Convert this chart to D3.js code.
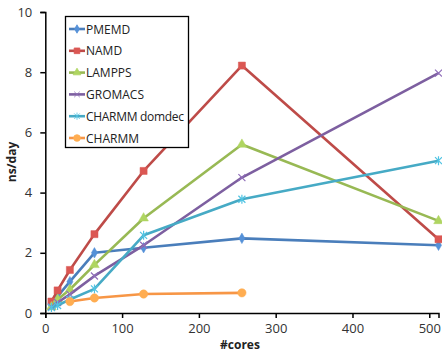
<!DOCTYPE html>
<html>
<head>
<meta charset="utf-8">
<script src="https://cdn.jsdelivr.net/npm/d3@7"></script>
<style>
  body { margin: 0; background: #fff; }
  text { font-family: "Open Sans", "Liberation Sans", sans-serif; }
</style>
</head>
<body>
<svg id="chart" width="442" height="353"></svg>
<script>

var cores = [8, 16, 32, 64, 128, 256, 512];

var pmemd   = [0.25, 0.55, 1.04, 2.0, 2.17, 2.48, 2.25];
var namd    = [0.38, 0.75, 1.43, 2.62, 4.72, 8.22, 2.45];
var lampps  = [0.2, 0.45, 0.78, 1.6, 3.15, 5.6, 3.06];
var gromacs = [0.2, 0.35, 0.62, 1.23, 2.25, 4.5, 7.97];
var domdec  = [0.18, 0.25, 0.45, 0.8, 2.58, 3.78, 5.06];
var charmmCores = [32, 64, 128, 256];
var charmm  = [0.38, 0.5, 0.63, 0.67];

var seriesNames = ["PMEMD", "NAMD", "LAMPPS", "GROMACS", "CHARMM domdec", "CHARMM"];
var colors = ["#4a7ebb", "#be4b48", "#98b954", "#7d5fa0", "#46aac5", "#f79646"];
var yTicks = [0, 2, 4, 6, 8, 10];
var xTicks = [0, 100, 200, 300, 400, 500];

function draw(){
  var svg = d3.select("#chart");
  var x = d3.scaleLinear().domain([0, 512]).range([45.3, 438.5]);
  var y = d3.scaleLinear().domain([0, 10]).range([313, 12]);

  var series = [
    {name: seriesNames[0], xs: cores, ys: pmemd, sym: "diamond"},
    {name: seriesNames[1], xs: cores, ys: namd, sym: "square"},
    {name: seriesNames[2], xs: cores, ys: lampps, sym: "triangle"},
    {name: seriesNames[3], xs: cores, ys: gromacs, sym: "cross"},
    {name: seriesNames[4], xs: cores, ys: domdec, sym: "star"},
    {name: seriesNames[5], xs: charmmCores, ys: charmm, sym: "circle"}
  ];

  // axes
  svg.append("g")
     .attr("transform", "translate(45.3,0)")
     .call(d3.axisLeft(y).tickValues(yTicks).tickSize(5).tickPadding(8))
     .call(function(g){
        g.select(".domain").attr("stroke", "#000").attr("stroke-width", 1.5);
        g.selectAll(".tick line").attr("stroke-width", 1.5);
        g.selectAll("text").attr("font-size", 13).attr("fill", "#333");
     });
  svg.append("g")
     .attr("transform", "translate(0,313)")
     .call(d3.axisBottom(x).tickValues(xTicks).tickSize(5).tickPadding(6))
     .call(function(g){
        g.select(".domain").attr("stroke", "#000").attr("stroke-width", 1.5);
        g.selectAll(".tick line").attr("stroke-width", 1.5);
        g.selectAll("text").attr("font-size", 13).attr("fill", "#333");
     });

  // lines
  var line = d3.line().x(function(d){return x(d[0]);}).y(function(d){return y(d[1]);});
  series.forEach(function(s, i){
    var pts = s.xs.map(function(v, j){ return [v, s.ys[j]]; });
    svg.append("path").datum(pts)
       .attr("d", line)
       .attr("fill", "none")
       .attr("stroke", colors[i])
       .attr("stroke-width", 2.6)
       .attr("stroke-linejoin", "round");
    svg.append("g").selectAll("path")
       .data(pts).enter()
       .append("path")
       .attr("transform", function(d){return "translate("+x(d[0])+","+y(d[1])+")";})
       .attr("d", marker(s.sym))
       .attr("fill", d3.color(colors[i]).brighter(0.4))
       .attr("stroke", d3.color(colors[i]).brighter(0.4))
       .attr("stroke-width", s.sym == "cross" || s.sym == "star" ? 1.2 : 0.5);
  });

  // legend
  var lg = svg.append("g");
  lg.append("rect").attr("x", 65.5).attr("y", 16.5).attr("width", 123).attr("height", 131)
    .attr("fill", "#fff").attr("stroke", "#000").attr("stroke-width", 1.3);
  series.forEach(function(s, i){
    var yy = 29 + i * 21.8;
    lg.append("line").attr("x1", 69).attr("x2", 85).attr("y1", yy).attr("y2", yy)
      .attr("stroke", colors[i]).attr("stroke-width", 2.6);
    lg.append("path").attr("transform", "translate(77,"+yy+") scale(0.8)")
      .attr("d", marker(s.sym))
      .attr("fill", d3.color(colors[i]).brighter(0.4))
      .attr("stroke", d3.color(colors[i]).brighter(0.4))
      .attr("stroke-width", 1);
    lg.append("text").attr("x", 86).attr("y", yy + 4.5)
      .attr("font-size", 12).attr("textLength", s.name == "CHARMM domdec" ? 98 : null)
      .attr("fill", "#222").text(s.name);
  });

  // axis titles
  svg.append("text").attr("x", 240).attr("y", 349).attr("text-anchor", "middle")
     .attr("font-size", 12).attr("font-weight", "bold").attr("fill", "#222").text("#cores");
  svg.append("text").attr("transform", "translate(16,162) rotate(-90)")
     .attr("text-anchor", "middle")
     .attr("font-size", 12).attr("font-weight", "bold").attr("fill", "#222").text("ns/day");
}

function marker(sym){
  if(sym == "square") return d3.symbol(d3.symbolSquare, 50)();
  if(sym == "diamond") return d3.symbol(d3.symbolDiamond, 32)();
  if(sym == "triangle") return d3.symbol(d3.symbolTriangle, 40)();
  if(sym == "circle") return d3.symbol(d3.symbolCircle, 55)();
  if(sym == "cross") return "M-3.5,-3.5L3.5,3.5M-3.5,3.5L3.5,-3.5";
  return "M-3.5,-3.5L3.5,3.5M-3.5,3.5L3.5,-3.5M0,-4.5L0,4.5";
}

draw();
</script>
</body>
</html>
